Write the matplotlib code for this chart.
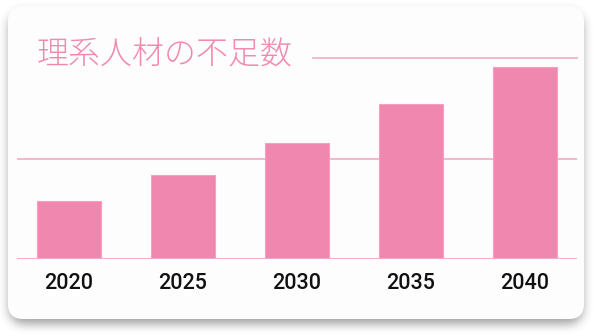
import numpy as np
import matplotlib.pyplot as plt
from matplotlib.patches import FancyBboxPatch

years = ['2020', '2025', '2030', '2035', '2040']
values = [11.5, 16.7, 23.1, 30.8, 38.2]
title = '理系人材の不足数'

PINK = '#f087ae'
GRID = '#f6a9c6'

W, H = 593, 336
fig = plt.figure(figsize=(W / 100, H / 100), dpi=100)
fig.patch.set_facecolor('white')

# card background in pixel coordinates
bg = fig.add_axes([0, 0, 1, 1])
bg.axis('off')

# soft shadow: blurred rounded rect shifted down
yy, xx = np.mgrid[0:H, 0:W] + 0.5
x0, y0, x1, y1, r = 9, 12, 583, 324, 15
dx = np.maximum(np.maximum(x0 + r - xx, xx - (x1 - r)), 0)
dy = np.maximum(np.maximum(y0 + r - yy, yy - (y1 - r)), 0)
mask = (np.hypot(dx, dy) <= r).astype(float)
k = np.exp(-0.5 * (np.arange(-15, 16) / 5.0) ** 2)
k /= k.sum()
mask = np.apply_along_axis(lambda v: np.convolve(v, k, mode='same'), 0, mask)
mask = np.apply_along_axis(lambda v: np.convolve(v, k, mode='same'), 1, mask)
shadow = np.zeros((H, W, 4))
shadow[..., 3] = mask * 0.38
bg.imshow(shadow, extent=(0, W, H, 0), interpolation='nearest', zorder=0)
bg.set_xlim(0, W)
bg.set_ylim(H, 0)

bg.add_patch(FancyBboxPatch((8, 6), 576, 313,
                            boxstyle='round,pad=0,rounding_size=15',
                            fc='#fdfdfd', ec='none', zorder=1))

ax = fig.add_axes([17 / W, (H - 259) / H, 560 / W, 201 / H])
ax.set_facecolor('none')
x = range(len(years))
ax.bar(x, values, width=0.56, color=PINK, edgecolor='#f5a0c0', linewidth=0.8, zorder=3)
ax.set_xlim(-0.456, 4.456)
ax.set_ylim(0, 40)

ax.axhline(0, color=GRID, lw=1.4, zorder=4)
ax.axhline(20, color=GRID, lw=1.2, zorder=1)
ax.axhline(40, xmin=(313 - 17) / 560, color=GRID, lw=1.2, zorder=1, clip_on=False)

ax.set_xticks(list(x), years, fontfamily='Roboto', fontsize=15.5,
              fontweight='medium', color='#111111')
ax.tick_params(axis='x', length=0, pad=10)
ax.set_yticks([])
for s in ax.spines.values():
    s.set_visible(False)

fig.text(37 / W, 1 - 55 / H, title, color='#f08aaf', fontsize=23,
         family=['Noto Sans CJK JP', 'DejaVu Sans'], weight='light',
         va='center', ha='left')

fig.savefig('out.png', dpi=100)
